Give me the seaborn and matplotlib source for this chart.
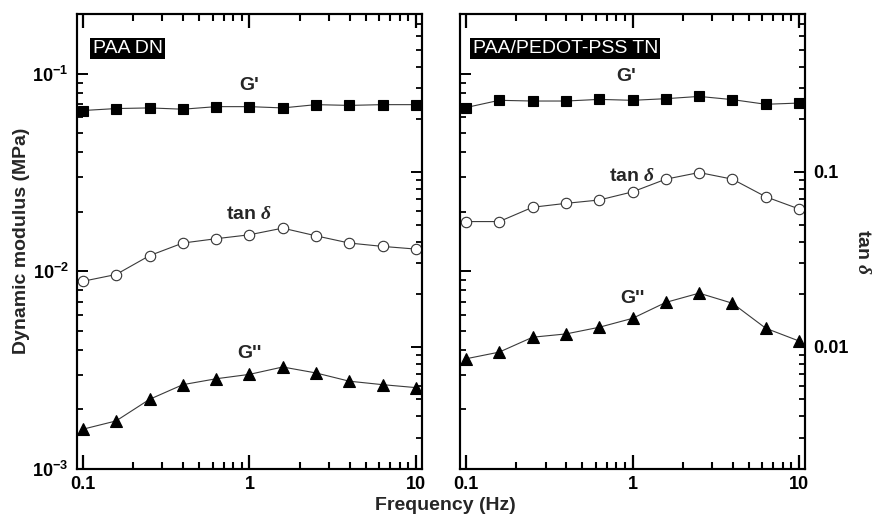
import matplotlib
matplotlib.use('Agg')
import numpy as np
import matplotlib.pyplot as plt
import matplotlib.ticker as mticker
import seaborn as sns

# frequencia (Hz), igual nos dois paineis
freq = [0.1, 0.158, 0.251, 0.398, 0.631, 1.0, 1.585, 2.512, 3.981, 6.31, 10.0]

# PAA DN (MPa e tan delta)
dn_gp = [0.065, 0.0665, 0.067, 0.066, 0.068, 0.068, 0.067, 0.0696, 0.069, 0.0696, 0.0696]
dn_gpp = [0.00159, 0.00175, 0.00225, 0.00267, 0.00286, 0.00301, 0.00328, 0.00306, 0.00278, 0.00267, 0.00258]
dn_tan = [0.0237, 0.0259, 0.0332, 0.0392, 0.0415, 0.0437, 0.0477, 0.0431, 0.0392, 0.0375, 0.0362]

# PAA/PEDOT-PSS TN
tn_gp = [0.0673, 0.0732, 0.0726, 0.0726, 0.0740, 0.0732, 0.0746, 0.0766, 0.0738, 0.0699, 0.0709]
tn_gpp = [0.00361, 0.00390, 0.00464, 0.00482, 0.00521, 0.00578, 0.00696, 0.00775, 0.00689, 0.00515, 0.00444]
tn_tan = [0.0520, 0.0520, 0.0628, 0.0661, 0.0691, 0.0769, 0.0909, 0.0992, 0.0909, 0.0721, 0.0614]

paineis = ['PAA DN', 'PAA/PEDOT-PSS TN']

sns.set_style('ticks')
plt.rcParams['font.family'] = ['Liberation Sans', 'DejaVu Sans']
plt.rcParams['font.weight'] = 'bold'
plt.rcParams['mathtext.fontset'] = 'custom'
plt.rcParams['mathtext.rm'] = 'Liberation Sans:bold'
plt.rcParams['mathtext.bf'] = 'Liberation Sans:bold'
plt.rcParams['mathtext.it'] = 'Liberation Serif:italic:bold'
plt.rcParams['mathtext.default'] = 'rm'
# ticks para dentro em todos os lados
plt.rcParams.update({
    'xtick.direction': 'in', 'ytick.direction': 'in',
    'xtick.top': True, 'xtick.bottom': True,
    'xtick.major.size': 10, 'xtick.minor.size': 5,
    'ytick.major.size': 8, 'ytick.minor.size': 4.5,
    'xtick.major.width': 1.6, 'xtick.minor.width': 1.5,
    'ytick.major.width': 1.4, 'ytick.minor.width': 1.3,
    'xtick.major.pad': 5, 'ytick.major.pad': 6,
    'xtick.color': 'black', 'ytick.color': 'black',
    'xtick.labelsize': 13, 'ytick.labelsize': 13,
    'axes.edgecolor': 'black', 'axes.linewidth': 1.5,
})

TAN = r'tan $\mathit{\delta}$'
fmt_freq = mticker.FuncFormatter(lambda v, p: f'{v:g}')
fmt_g = mticker.FuncFormatter(lambda v, p: r'$10^{%d}$' % round(np.log10(v)))
fmt_tan = mticker.FuncFormatter(lambda v, p: f'{v:g}')


def desenhar_painel(ax, gp, gpp, tan, rotulo, rotulo_x, labels_esq, labels_dir):
    ax.set_xscale('log')
    ax.set_yscale('log')
    ax2 = ax.twinx()
    ax2.set_yscale('log')

    estilo = dict(color='#3a3a3a', linewidth=0.8, markeredgewidth=0.8)
    sns.lineplot(x=freq, y=gp, ax=ax, marker='s', markersize=6.5,
                 markerfacecolor='black', markeredgecolor='black', **estilo)
    sns.lineplot(x=freq, y=gpp, ax=ax, marker='^', markersize=8.5,
                 markerfacecolor='black', markeredgecolor='black', **estilo)
    sns.lineplot(x=freq, y=tan, ax=ax2, marker='o', markersize=7.5,
                 markerfacecolor='white', markeredgecolor='#333333', **estilo)

    # folga pequena em x (0.1 a 10 quase encostando nas bordas)
    ax.margins(x=0.018)
    ax2.margins(x=0.018)
    ax.set_ylim(1e-3, 0.2)
    ax2.set_ylim(0.002, 0.8)

    ax.xaxis.set_major_formatter(fmt_freq)
    ax.yaxis.set_major_formatter(fmt_g)
    ax2.yaxis.set_major_formatter(fmt_tan)
    ax.set_xlabel('')
    ax.set_ylabel('')
    if not labels_esq:
        ax.tick_params(axis='y', labelleft=False)
    if not labels_dir:
        ax2.tick_params(axis='y', labelright=False)

    # caixa preta com o nome da amostra
    ax.text(rotulo_x, 0.924, rotulo, transform=ax.transAxes, color='white', fontsize=14,
            fontweight='normal', ha='left', va='center',
            bbox=dict(facecolor='black', edgecolor='none', pad=1.5))
    return ax2


fig, (ax_dn, ax_tn) = plt.subplots(1, 2, figsize=(8.81, 5.22), dpi=100)
fig.subplots_adjust(left=77 / 881, right=805 / 881, bottom=53 / 522, top=508 / 522, wspace=0.111)

ax2_dn = desenhar_painel(ax_dn, dn_gp, dn_gpp, dn_tan, paineis[0], 0.045, True, False)
ax2_tn = desenhar_painel(ax_tn, tn_gp, tn_gpp, tn_tan, paineis[1], 0.036, False, True)

# nomes das curvas
fonte = dict(fontsize=14, fontweight='bold', ha='center', va='center')
ax_dn.text(1.0, 0.087, "G'", **fonte)
ax2_dn.text(1.0, 0.0568, TAN, **fonte)
ax_dn.text(1.0, 0.00384, "G''", **fonte)
ax_tn.text(0.92, 0.0966, "G'", **fonte)
ax2_tn.text(0.99, 0.094, TAN, **fonte)
ax_tn.text(1.0, 0.00728, "G''", **fonte)

fig.text(22 / 881, 1 - 241 / 522, 'Dynamic modulus (MPa)', rotation=90,
         fontsize=14, fontweight='bold', ha='center', va='center')
fig.text(445 / 881, 1 - 505 / 522, 'Frequency (Hz)',
         fontsize=14, fontweight='bold', ha='center', va='center')
fig.text(862 / 881, 1 - 252 / 522, TAN, rotation=270,
         fontsize=14, fontweight='bold', ha='center', va='center')

fig.savefig('out.png', dpi=100)
